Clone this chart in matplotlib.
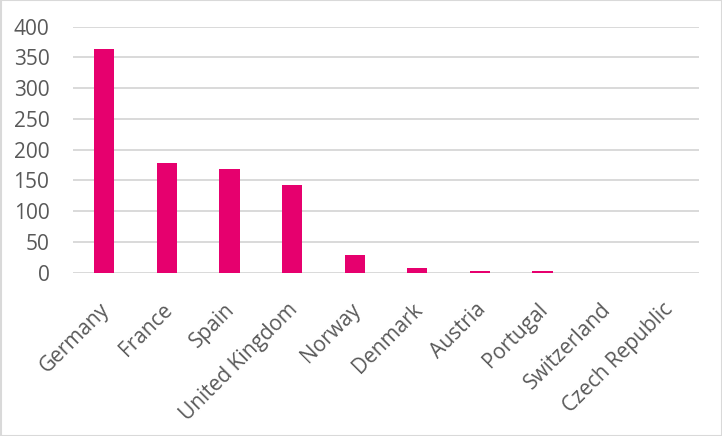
import matplotlib
matplotlib.use("Agg")
import matplotlib.pyplot as plt
from matplotlib.patches import Rectangle
from matplotlib.transforms import ScaledTranslation

countries = ["Germany", "France", "Spain", "United Kingdom", "Norway",
             "Denmark", "Austria", "Portugal", "Switzerland", "Czech Republic"]
values = [363, 178, 168, 142, 29, 7, 2, 2, 0, 0]
yticks = [0, 50, 100, 150, 200, 250, 300, 350, 400]

BAR = "#E6006E"
GRID = "#D9D9D9"
TXT = "#595959"
plt.rcParams['font.family'] = ['Open Sans', 'DejaVu Sans']

W, H = 722, 436
fig = plt.figure(figsize=(W/100, H/100), dpi=100)
ax = fig.add_axes([73/W, 1-272.7/H, (699-73)/W, (272.7-26.7)/H])

x = list(range(len(countries)))
ax.bar(x, values, width=0.32, color=BAR, zorder=3)
ax.set_xlim(-0.5, len(countries)-0.5)
ax.set_ylim(0, 400)
ax.set_yticks(yticks)
ax.set_yticklabels([str(v) for v in yticks], fontsize=15, color=TXT)
ax.set_xticks(x)
ax.set_xticklabels(countries, rotation=45, ha='right', rotation_mode='anchor',
                   fontsize=15, color=TXT)
ax.tick_params(axis='both', length=0)
ax.tick_params(axis='y', pad=17)
ax.tick_params(axis='x', pad=14)
shift = ScaledTranslation(-5/100, -7/100, fig.dpi_scale_trans)
for lab in ax.get_xticklabels():
    lab.set_transform(lab.get_transform() + shift)
ax.grid(axis='y', color=GRID, linewidth=1.4, zorder=0)
for s in ax.spines.values():
    s.set_visible(False)

fig.patches.append(Rectangle((0.5/W, 0.5/H), 1-1/W, 1-1/H, transform=fig.transFigure,
                             fill=False, edgecolor=GRID, linewidth=1.5))
fig.savefig("out.png", dpi=100)
